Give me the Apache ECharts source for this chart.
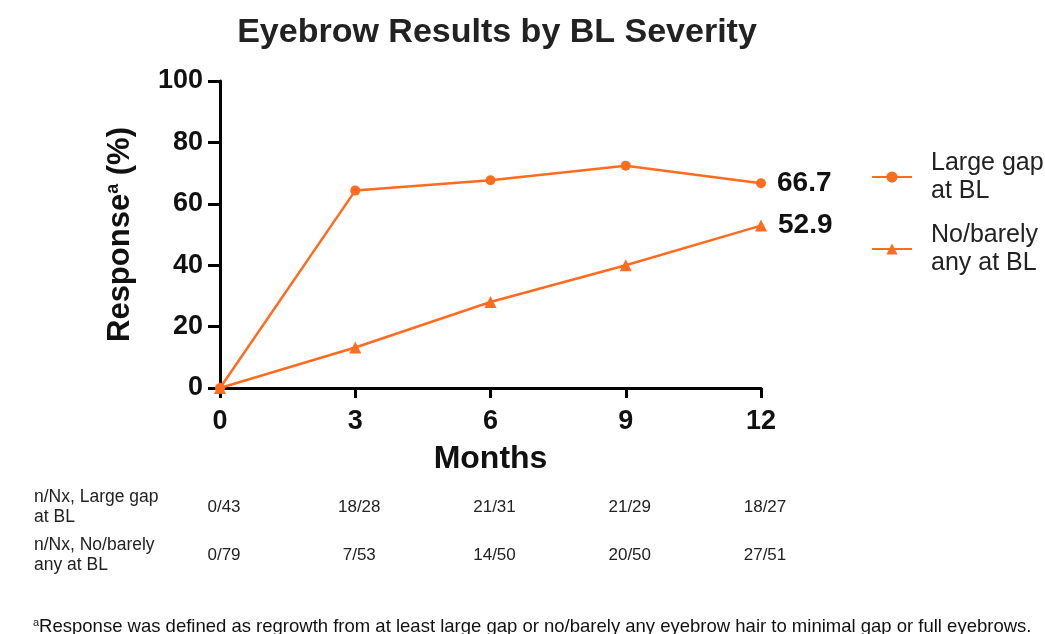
<!DOCTYPE html>
<html>
<head>
<meta charset="utf-8">
<script src="https://cdn.jsdelivr.net/npm/echarts@6/dist/echarts.min.js"></script>
<style>
  html, body { margin: 0; padding: 0; background: #fff; }
  #chart { width: 1045px; height: 634px; }
</style>
</head>
<body>
<div id="chart"></div>
<script>
const months = [0, 3, 6, 9, 12];
const largeGap = [0, 64.3, 67.7, 72.4, 66.7];
const noBarely = [0, 13.2, 28.0, 40.0, 52.9];
const nLargeGap = ['0/43', '18/28', '21/31', '21/29', '18/27'];
const nNoBarely = ['0/79', '7/53', '14/50', '20/50', '27/51'];

const orange = '#ff6c1e';
const font = 'Liberation Sans, Arial, sans-serif';

const myChart = echarts.init(document.getElementById('chart'));

const endLabel = () => ({
  show: true,
  position: 'right',
  distance: 11,
  fontFamily: font,
  fontSize: 28,
  fontWeight: 'bold',
  color: '#111',
  formatter: (p) => p.dataIndex === months.length - 1 ? p.value[1].toFixed(1) : ''
});

myChart.setOption({
  animation: false,
  title: {
    text: 'Eyebrow Results by BL Severity',
    left: 492,
    textAlign: 'center',
    top: 11,
    textStyle: { fontFamily: font, fontSize: 34, fontWeight: 'bold', color: '#222' }
  },
  grid: { left: 220, right: 284, top: 81, bottom: 246 },
  legend: {
    orient: 'vertical',
    left: 866,
    top: 144,
    itemWidth: 40,
    itemHeight: 14,
    itemGap: 16,
    data: ['Large gap\nat BL', 'No/barely\nany at BL'],
    textStyle: { fontFamily: font, fontSize: 25, color: '#222', lineHeight: 28, padding: [0, 0, 0, 14] }
  },
  xAxis: {
    type: 'value',
    min: 0, max: 12, interval: 3,
    name: 'Months',
    nameLocation: 'middle',
    nameGap: 55,
    nameTextStyle: { fontFamily: font, fontSize: 32, fontWeight: 'bold', color: '#111' },
    axisLine: { lineStyle: { color: '#000', width: 3 } },
    axisTick: { show: true, length: 10, lineStyle: { color: '#000', width: 3 } },
    axisLabel: { fontFamily: font, fontSize: 27, fontWeight: 'bold', color: '#111', margin: 20 },
    splitLine: { show: false }
  },
  yAxis: {
    type: 'value',
    min: 0, max: 100, interval: 20,
    name: '{b|Response}{s|a}{b| (%)}',
    nameLocation: 'middle',
    nameGap: 84,
    nameTextStyle: {
      rich: {
        b: { fontFamily: font, fontSize: 31, fontWeight: 'bold', color: '#111' },
        s: { fontFamily: font, fontSize: 18, fontWeight: 'bold', color: '#111', verticalAlign: 'top', padding: [0, 0, 14, 0] }
      }
    },
    axisLine: { show: true, lineStyle: { color: '#000', width: 3 } },
    axisTick: { show: true, length: 12, lineStyle: { color: '#000', width: 3 } },
    axisLabel: { fontFamily: font, fontSize: 27, fontWeight: 'bold', color: '#111', margin: 17 },
    splitLine: { show: false }
  },
  series: [
    {
      name: 'Large gap\nat BL',
      type: 'line',
      data: months.map((m, i) => [m, largeGap[i]]),
      symbol: 'circle',
      symbolSize: 10,
      color: orange,
      lineStyle: { width: 2.5, color: orange },
      label: endLabel()
    },
    {
      name: 'No/barely\nany at BL',
      type: 'line',
      data: months.map((m, i) => [m, noBarely[i]]),
      symbol: 'triangle',
      symbolSize: 12,
      color: orange,
      lineStyle: { width: 2.5, color: orange },
      label: endLabel()
    }
  ]
});

// n/Nx table under the x axis, columns lined up with the month ticks
const graphics = [];
const rows = [
  { label: 'n/Nx, Large gap\nat BL', values: nLargeGap, y: 507 },
  { label: 'n/Nx, No/barely\nany at BL', values: nNoBarely, y: 555 }
];
rows.forEach((row) => {
  graphics.push({
    type: 'text', x: 34, y: row.y,
    style: { text: row.label, font: '17.5px ' + font, fill: '#222', lineHeight: 20, verticalAlign: 'middle' }
  });
  row.values.forEach((v, i) => {
    const px = myChart.convertToPixel({ gridIndex: 0 }, [months[i], 0])[0];
    graphics.push({
      type: 'text', x: px + 4, y: row.y,
      style: { text: v, font: '17px ' + font, fill: '#222', align: 'center', verticalAlign: 'middle' }
    });
  });
});
graphics.push({
  type: 'text', x: 33, y: 627,
  style: {
    text: '{s|a}{t|Response was defined as regrowth from at least large gap or no/barely any eyebrow hair to minimal gap or full eyebrows.}',
    verticalAlign: 'middle',
    rich: {
      s: { font: '11px ' + font, fill: '#222', verticalAlign: 'top', padding: [0, 0, 8, 0] },
      t: { font: '18.5px ' + font, fill: '#111' }
    }
  }
});
myChart.setOption({ graphic: graphics });

window.onresize = function () {
  myChart.resize();
};
</script>
</body>
</html>
